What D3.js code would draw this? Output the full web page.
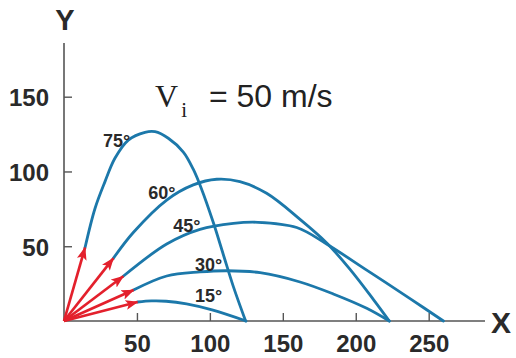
<!DOCTYPE html>
<html><head><meta charset="utf-8">
<script src="https://cdn.jsdelivr.net/npm/d3@7"></script>
<style>body{margin:0;background:#fff}svg{display:block}</style>
</head><body>
<div id="chart"></div>
<script>
// ---- data (data units: metres) ----
const angles = ["75°", "60°", "45°", "30°", "15°"];
const path75 = [[14.4,49],[21.3,75.4],[28.1,93.2],[34.9,108.8],[44.1,121],[55.5,126.2],[62.4,126.6],[71.5,122.2],[81.8,113],[88.6,101.5],[94.4,88],[102.3,66],[109.2,44.5],[116.1,23],[124.5,0]];
const path60 = [[33.8,41.9],[47.5,59.2],[70.4,80.9],[88.6,91],[104.7,94.8],[120.6,93.2],[138.9,85.4],[161.8,68],[180.1,52.2],[196.1,34.5],[212,14.5],[223,0]];
const path45 = [[40.6,29.9],[70.4,51.5],[93.2,61.3],[116.1,65.3],[133,66],[159.5,62.5],[180,51.5],[207.5,34],[237.2,15],[260.1,0]];
const path30 = [[47.6,20.7],[70.4,30.1],[93.2,32.8],[111.5,33.6],[134.4,32.3],[161.8,26.1],[184.6,18.1],[207.5,8.5],[223,0]];
const path15 = [[50.4,12.7],[60,13.4],[70,13.2],[84,11.4],[101.5,7.4],[124.8,0]];
const paths = [path75, path60, path45, path30, path15];
const xTicks = [50, 100, 150, 200, 250];
const yTicks = [50, 100, 150];
// annotation anchors (data units)
const labelAt = [[26.7,116.4],[57.8,81.4],[74.9,59.7],[89.8,33.6],[89.8,12.9]];
const titleAt = [62.4,143.1];

const W = 516, H = 358;
const svg = d3.select("#chart").append("svg").attr("width", W).attr("height", H);
const x = d3.scaleLinear().domain([0,250]).range([64,428.7]);
const y = d3.scaleLinear().domain([0,150]).range([321,96.7]);
const axisColor = "#555";
const textColor = "#2a2a2a";
const blue = "#1c78aa";
const red = "#e3202c";

// axes
const gx = svg.append("g").attr("transform", `translate(0,${y(0)})`)
  .call(d3.axisBottom(x).tickValues(xTicks).tickSizeInner(-8).tickSizeOuter(0));
gx.select(".domain").attr("d", `M${x(0)},0H485`);
const gy = svg.append("g").attr("transform", `translate(${x(0)},0)`)
  .call(d3.axisLeft(y).tickValues(yTicks).tickSizeInner(-8).tickSizeOuter(0));
gy.select(".domain").attr("d", `M0,${y(0)}V43`);
[gx, gy].forEach(g => {
  g.selectAll(".domain").attr("stroke", axisColor).attr("stroke-width", 1.6);
  g.selectAll(".tick line").attr("stroke", axisColor).attr("stroke-width", 1.4);
  g.selectAll(".tick text").attr("fill", textColor)
    .style("font", "bold 24px 'Liberation Sans', Arial, sans-serif");
});
gx.selectAll(".tick text").attr("y", 30.5).attr("dy", 0);
gy.selectAll(".tick text").attr("x", -15).attr("dy", "0.38em");

svg.append("text").attr("x", 65).attr("y", 30).attr("text-anchor", "middle")
  .attr("fill", textColor).style("font", "bold 29px 'Liberation Sans', Arial, sans-serif").text("Y");
svg.append("text").attr("x", 501).attr("y", 333).attr("text-anchor", "middle")
  .attr("fill", textColor).style("font", "bold 30px 'Liberation Sans', Arial, sans-serif").text("X");

// trajectories
const line = d3.line().x(d => x(d[0])).y(d => y(d[1])).curve(d3.curveCatmullRom.alpha(0.5));
svg.append("g").selectAll("path").data(paths).join("path")
  .attr("d", line).attr("fill", "none").attr("stroke", blue).attr("stroke-width", 2.8)
  .attr("stroke-linecap", "round");

// red velocity arrows
svg.append("defs").append("marker").attr("id", "ah")
  .attr("viewBox", "0 0 13 10").attr("refX", 12).attr("refY", 5)
  .attr("markerWidth", 13).attr("markerHeight", 10).attr("markerUnits", "userSpaceOnUse")
  .attr("orient", "auto")
  .append("path").attr("d", "M0,0L13,5L0,10L3,5Z").attr("fill", red);
svg.append("g").selectAll("line").data(paths).join("line")
  .attr("x1", x(0)).attr("y1", y(0))
  .attr("x2", d => x(d[0][0])).attr("y2", d => y(d[0][1]))
  .attr("stroke", red).attr("stroke-width", 2.7).attr("marker-end", "url(#ah)");

// angle labels
svg.append("g").selectAll("text").data(angles).join("text")
  .attr("x", (d,i) => x(labelAt[i][0])).attr("y", (d,i) => y(labelAt[i][1]))
  .attr("fill", textColor).style("font", "bold 18px 'Liberation Sans', Arial, sans-serif")
  .text(d => d);

// title Vi = 50 m/s
const t = svg.append("text").attr("x", x(titleAt[0])).attr("y", y(titleAt[1])).attr("fill", "#222");
t.append("tspan").style("font", "32px 'Liberation Serif', 'Times New Roman', serif").text("V");
t.append("tspan").attr("dy", 10).attr("dx", 3).style("font", "21px 'Liberation Serif', 'Times New Roman', serif").text("i");
t.append("tspan").attr("dy", -10).attr("dx", 22).style("font", "32px 'Liberation Sans', Arial, sans-serif").text("= 50 m/s");
</script>
</body></html>
